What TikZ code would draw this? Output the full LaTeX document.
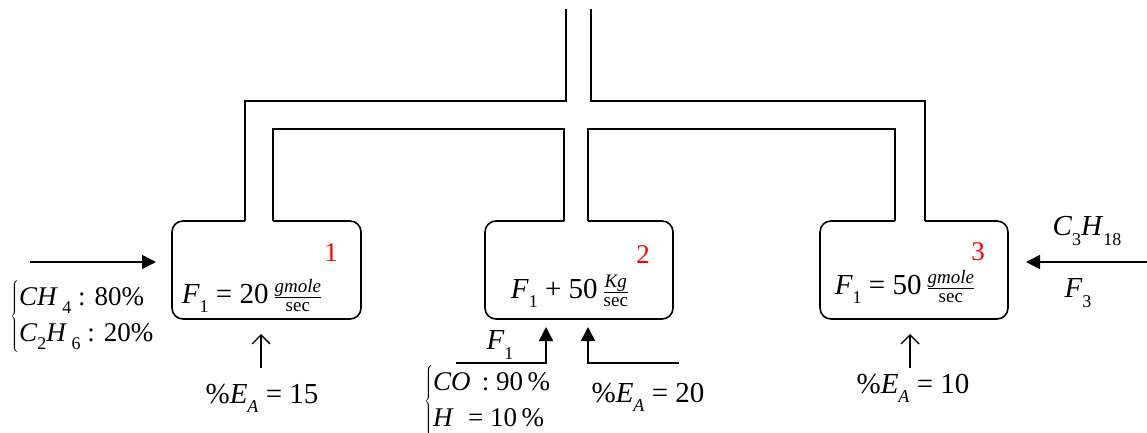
\documentclass[tikz,border=0pt]{standalone}
\usepackage{fontspec}
\setmainfont{Liberation Serif}
\usetikzlibrary{arrows.meta}
\newcommand\I[1]{\textit{#1}}
\newcommand\sbs[1]{\raisebox{-0.32em}{\fontsize{18}{18}\selectfont #1}}
\newcommand\fr[2]{\ensuremath{\frac{\mbox{\fontsize{19}{19}\selectfont #1}}{\mbox{\fontsize{19}{19}\selectfont #2}}}}
\tikzset{
  line/.style={line width=1.3pt},
  boxline/.style={line width=1.6pt, rounded corners=11pt},
  fillarrow/.style={line width=1.6pt, -{Triangle[length=14pt,width=14pt]}},
  openarrow/.style={line width=1.4pt, -{Straight Barb[length=9pt,width=18pt,line width=1.4pt]}},
  lbl/.style={font=\fontsize{29}{34}\selectfont, inner sep=0pt},
  feed/.style={font=\fontsize{27}{36}\selectfont, inner sep=0pt, anchor=west},
  num/.style={font=\fontsize{27}{30}\selectfont, text=red, inner sep=0pt},
}
\begin{document}
\begin{tikzpicture}[x=1pt,y=-1pt]
\useasboundingbox (0,0) rectangle (1147,433);
% pipes
\draw[line] (245,221) -- (245,101) -- (566,101) -- (566,9);
\draw[line] (591,9) -- (591,101) -- (925,101) -- (925,221);
\draw[line] (273,221) -- (273,129) -- (564,129) -- (564,221);
\draw[line] (588,221) -- (588,129) -- (895,129) -- (895,221);
% boxes
\draw[boxline] (245,221) -- (172,221) -- (172,319) -- (361,319) -- (361,221) -- (273,221);
\draw[boxline] (564,221) -- (485,221) -- (485,319) -- (673,319) -- (673,221) -- (588,221);
\draw[boxline] (895,221) -- (820,221) -- (820,319) -- (1008,319) -- (1008,221) -- (925,221);
% box texts
\node[lbl] (t1) at (252,296) {\I{F}\sbs{1} = 20\,\fr{\itshape gmole}{sec}};
\node[lbl] (t2) at (570,291) {\I{F}\sbs{1} + 50\,\fr{\itshape Kg}{sec}};
\node[lbl] (t3) at (905,287) {\I{F}\sbs{1} = 50\,\fr{\itshape gmole}{sec}};
\node[num] (n1) at (331,253) {1};
\node[num] (n2) at (643,255) {2};
\node[num] (n3) at (978,252) {3};
% box 1 inputs
\coordinate (a1s) at (30,262);
\coordinate (a1e) at (156,262);
\draw[fillarrow] (a1s) -- (a1e);
\node[feed] (feed1) at (10,316) {$\left\{\mbox{\begin{tabular}{@{}l@{}}\I{CH}\,\sbs{4} : 80\% \\ \I{C}\sbs{2}\I{H}\,\sbs{6} : 20\% \end{tabular}}\right.$};
\node[lbl] (ea1) at (262,398) {\%\I{E}\sbs{\I{A}} = 15};
\coordinate (u1s) at (261,368);
\coordinate (u1e) at (261,334);
\draw[openarrow] (u1s) -- (u1e);
% box 2 inputs
\coordinate (b2a) at (456,363);
\coordinate (b2b) at (546,363);
\coordinate (b2c) at (546,327);
\draw[fillarrow] (b2a) -- (b2b) -- (b2c);
\node[lbl] (f1) at (500,345) {\I{F}\sbs{1}};
\coordinate (c2a) at (679,363);
\coordinate (c2b) at (588,363);
\coordinate (c2c) at (588,327);
\draw[fillarrow] (c2a) -- (c2b) -- (c2c);
\node[feed] (feed2) at (424,401) {$\left\{\mbox{\begin{tabular}{@{}l@{}}\I{CO} \,: 90\,\% \\ \I{H}\; = 10\,\% \end{tabular}}\right.$};
\node[lbl] (ea2) at (648,397) {\%\I{E}\sbs{\I{A}} = 20};
% box 3 inputs
\coordinate (a3s) at (1147,262);
\coordinate (a3e) at (1026,262);
\draw[fillarrow] (a3s) -- (a3e);
\node[lbl] (c3h) at (1087,231) {\I{C}\sbs{3}\I{H}\sbs{18}};
\node[lbl] (f3) at (1078,293) {\I{F}\sbs{3}};
\node[lbl] (ea3) at (913,388) {\%\I{E}\sbs{\I{A}} = 10};
\coordinate (u3s) at (910,368);
\coordinate (u3e) at (910,334);
\draw[openarrow] (u3s) -- (u3e);
\end{tikzpicture}
\end{document}
